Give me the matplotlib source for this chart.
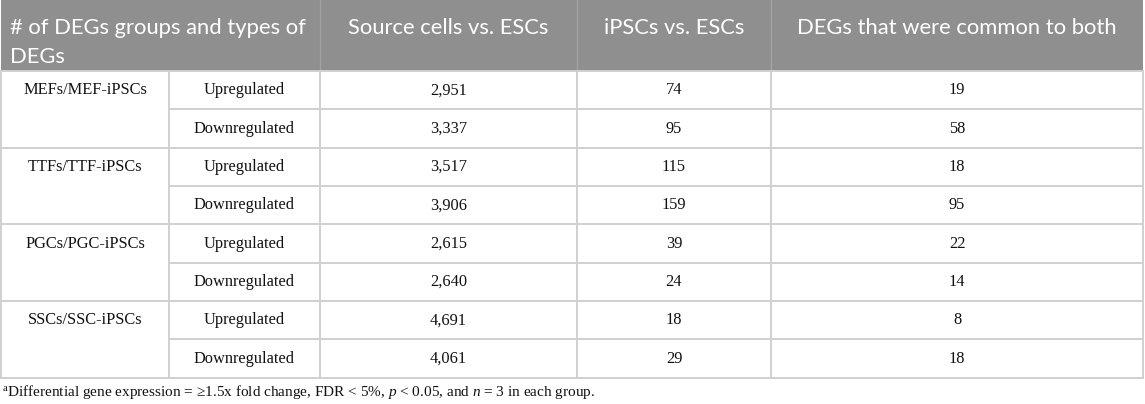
import matplotlib.pyplot as plt
from matplotlib.patches import Rectangle

plt.rcParams['mathtext.fontset'] = 'custom'
plt.rcParams['mathtext.rm'] = 'Liberation Serif'
plt.rcParams['mathtext.it'] = 'Liberation Serif:italic'

groups = ['MEFs/MEF-iPSCs', 'TTFs/TTF-iPSCs', 'PGCs/PGC-iPSCs', 'SSCs/SSC-iPSCs']
types = ['Upregulated', 'Downregulated']
source_vs_esc = ['2,951', '3,337', '3,517', '3,906', '2,615', '2,640', '4,691', '4,061']
ipsc_vs_esc = ['74', '95', '115', '159', '39', '24', '18', '29']
common = ['19', '58', '18', '95', '22', '14', '8', '18']
headers = ['# of DEGs groups and types of\nDEGs', 'Source cells vs. ESCs',
           'iPSCs vs. ESCs', 'DEGs that were common to both']
footnote = (r'$^{\rm a}$Differential gene expression = ≥1.5x fold change, FDR < 5%, '
            r'$p$ < 0.05, and $n$ = 3 in each group.')

W, H = 1145, 404
fig = plt.figure(figsize=(W / 100, H / 100), dpi=100)
ax = fig.add_axes([0, 0, 1, 1])
ax.set_xlim(0, W)
ax.set_ylim(H, 0)
ax.axis('off')

cols = [1, 169, 320, 577, 771, 1143]
head_bot = 71
row_h = 38.35
n_rows = len(source_vs_esc)
rows = [head_bot + i * row_h for i in range(n_rows + 1)]
line_c = '#d0d0d0'

# header
ax.add_patch(Rectangle((cols[0], 0), cols[-1] - cols[0], head_bot, color='#8f8f8f', lw=0))
for x in cols[2:-1]:
    ax.plot([x, x], [0, head_bot], color='#a3a3a3', lw=1)
hfont = dict(family='Lato', color='white', fontsize=15.8)
ax.text(10, 28, headers[0].split('\n')[0], va='center', ha='left', **hfont)
ax.text(10, 57, headers[0].split('\n')[1], va='center', ha='left', **hfont)
for j, h in enumerate(headers[1:]):
    cx = (cols[j + 2] + cols[j + 3]) / 2
    ax.text(cx, 28, h, va='center', ha='center', **hfont)

# grid lines
for i, y in enumerate(rows):
    if i % 2 == 0:
        ax.plot([cols[0], cols[-1]], [y, y], color=line_c, lw=1.4)
    else:
        ax.plot([cols[1], cols[-1]], [y, y], color=line_c, lw=1.4)
for x in cols:
    ax.plot([x, x], [head_bot, rows[-1]], color=line_c, lw=1.4)

# body
bfont = dict(family='Liberation Serif', color='#111111', fontsize=11.8)
for g, name in enumerate(groups):
    yc = (rows[2 * g] + rows[2 * g + 1]) / 2
    ax.text((cols[0] + cols[1]) / 2, yc, name, ha='center', va='center', **bfont)
for i in range(n_rows):
    yc = (rows[i] + rows[i + 1]) / 2
    vals = [types[i % 2], source_vs_esc[i], ipsc_vs_esc[i], common[i]]
    for j, v in enumerate(vals):
        cx = (cols[j + 1] + cols[j + 2]) / 2
        ax.text(cx, yc, v, ha='center', va='center', **bfont)

ax.text(2, 392, footnote, ha='left', va='center', family='Liberation Serif',
        fontsize=11, color='#111111')

fig.savefig('out.png', dpi=100)
